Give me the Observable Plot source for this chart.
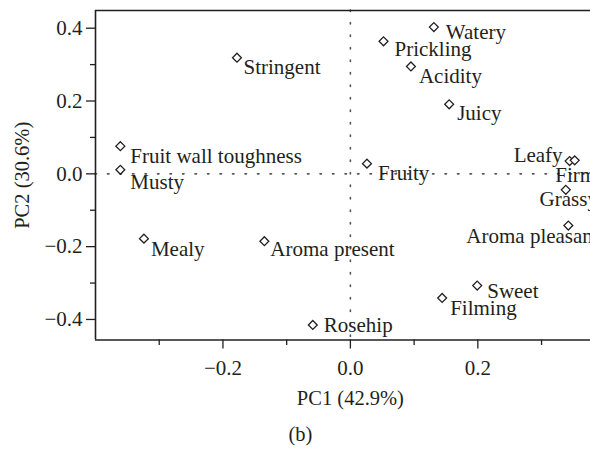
<!DOCTYPE html>
<html>
<head>
<meta charset="utf-8">
<script src="https://cdn.jsdelivr.net/npm/d3@7"></script>
<script src="https://cdn.jsdelivr.net/npm/@observablehq/plot@0.6"></script>
<style>
  html, body { margin: 0; padding: 0; background: #fff; }
  #chart svg { display: block; }
</style>
</head>
<body>
<div id="chart"></div>
<script>
// Attribute names (loadings)
const attributes = [
  "Stringent", "Fruit wall toughness", "Musty", "Mealy", "Aroma present",
  "Watery", "Prickling", "Acidity", "Juicy", "Fruity",
  "Leafy", "Firm", "Grassy", "Aroma pleasant", "Sweet", "Filming", "Rosehip"
];
// PC1 loadings
const pc1 = [
  -0.178, -0.361, -0.361, -0.324, -0.135,
  0.131, 0.052, 0.095, 0.155, 0.026,
  0.344, 0.352, 0.338, 0.342, 0.199, 0.144, -0.059
];
// PC2 loadings
const pc2 = [
  0.319, 0.076, 0.011, -0.178, -0.185,
  0.403, 0.364, 0.295, 0.191, 0.028,
  0.035, 0.037, -0.044, -0.142, -0.307, -0.341, -0.415
];
const xMajorTicks = [-0.2, 0.0, 0.2];
const xMinorTicks = [-0.3, -0.1, 0.1, 0.3];
const yMajorTicks = [-0.4, -0.2, 0.0, 0.2, 0.4];
const yMinorTicks = [-0.3, -0.1, 0.1, 0.3];
const xTitle = "PC1 (42.9%)";
const yTitle = "PC2 (30.6%)";
const panelLabel = "(b)";

const data = attributes.map((name, i) => ({name, pc1: pc1[i], pc2: pc2[i]}));

// label placement (text anchor, dx, baseline offset) — layout only
const labelLayout = {
  "Stringent": ["start", 6.5, 16],
  "Fruit wall toughness": ["start", 10, 17],
  "Musty": ["start", 10, 19],
  "Mealy": ["start", 7, 17],
  "Aroma present": ["start", 6, 15],
  "Watery": ["start", 12, 11.5],
  "Prickling": ["start", 11, 14.5],
  "Acidity": ["start", 8, 16.5],
  "Juicy": ["start", 8, 16],
  "Fruity": ["start", 11, 16.5],
  "Leafy": ["end", -7, 1],
  "Firm": ["middle", 1, 21.5],
  "Grassy": ["middle", 3, 16],
  "Aroma pleasant": ["start", -102, 17],
  "Sweet": ["start", 10, 12],
  "Filming": ["start", 8, 17],
  "Rosehip": ["start", 11, 7.5]
};

const ink = "#231f20";
const font = "'Liberation Serif', 'Times New Roman', serif";
const xDomain = [-0.4, 0.3768];
const yDomain = [-0.4564, 0.4486];

const labelMarks = data.map(d => {
  const [anchor, dx, dy] = labelLayout[d.name];
  return Plot.text([d], {
    x: "pc1", y: "pc2", text: "name",
    textAnchor: anchor, lineAnchor: "bottom",
    dx, dy, fill: ink, fontSize: 21
  });
});

const chart = Plot.plot({
  width: 590,
  height: 449,
  marginLeft: 95,
  marginRight: 0,
  marginTop: 10,
  marginBottom: 109.5,
  style: {fontFamily: font, fontSize: "21px", color: ink, background: "#fff"},
  x: {domain: xDomain},
  y: {domain: yDomain},
  marks: [
    Plot.ruleX([0], {stroke: "#555", strokeWidth: 1.6, strokeDasharray: "1.5,11", strokeLinecap: "round"}),
    Plot.ruleY([0], {stroke: "#555", strokeWidth: 1.6, strokeDasharray: "1.5,11", strokeLinecap: "round"}),
    Plot.axisX({ticks: xMajorTicks, tickSize: 9, tickPadding: 11, tickFormat: d3.format(".1f"), label: null, stroke: ink, strokeWidth: 1.3, fontSize: 21}),
    Plot.axisX({ticks: xMinorTicks, tickSize: 5.5, tickFormat: () => "", label: null, stroke: ink, strokeWidth: 1.3}),
    Plot.axisY({ticks: yMajorTicks, tickSize: 9, tickPadding: 4, tickFormat: d3.format(".1f"), label: null, stroke: ink, strokeWidth: 1.3, fontSize: 21}),
    Plot.axisY({ticks: yMinorTicks, tickSize: 5, tickFormat: () => "", label: null, stroke: ink, strokeWidth: 1.3}),
    Plot.ruleX([xDomain[0]], {stroke: ink, strokeWidth: 1.6}),
    Plot.ruleY([yDomain[0], yDomain[1]], {stroke: ink, strokeWidth: 1.6}),
    Plot.dot(data, {x: "pc1", y: "pc2", symbol: "diamond2", r: 4, stroke: ink, strokeWidth: 1.3, fill: "white"}),
    ...labelMarks,
    Plot.text([0], {x: d => d, frameAnchor: "bottom", text: () => xTitle, textAnchor: "middle", lineAnchor: "bottom", dy: 64.5, fill: ink, fontSize: 20.5}),
    Plot.text([0], {x: d => d, frameAnchor: "bottom", text: () => panelLabel, textAnchor: "middle", lineAnchor: "bottom", dx: -50, dy: 100.5, fill: ink, fontSize: 20.5}),
    Plot.text([yTitle], {frameAnchor: "left", text: d => d, rotate: -90, textAnchor: "middle", lineAnchor: "bottom", dx: -66.5, fill: ink, fontSize: 20.5})
  ]
});
document.getElementById("chart").appendChild(chart);
</script>
</body>
</html>
